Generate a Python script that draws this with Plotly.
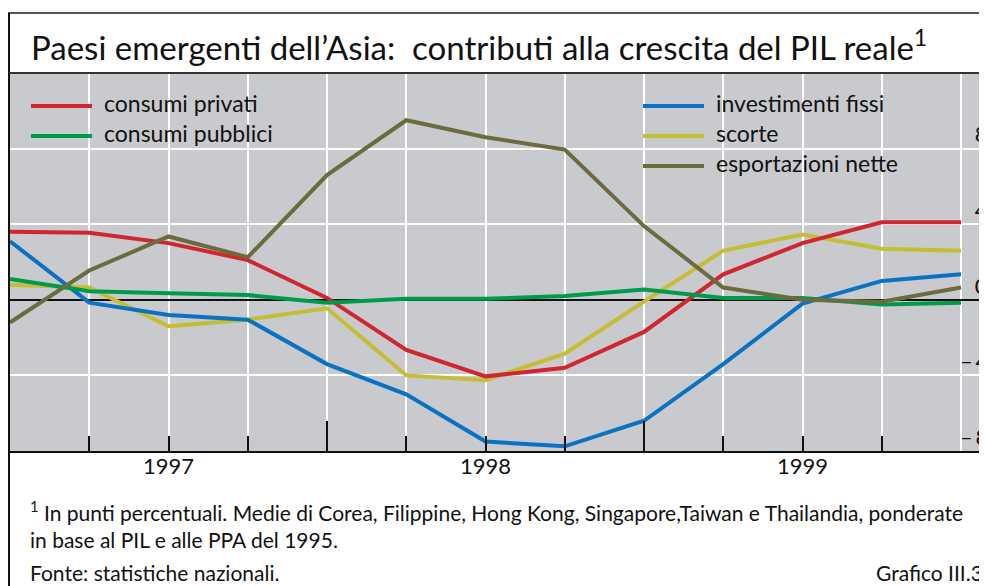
import plotly.graph_objects as go

# ---------------- data ----------------
quarters = list(range(13))  # quarterly points, year boundaries at 0, 4, 8, 12
year_labels = ["1997", "1998", "1999"]
series_names = ["consumi privati", "consumi pubblici", "investimenti fissi",
                "scorte", "esportazioni nette"]
consumi_privati = [3.6, 3.55, 3.0, 2.1, 0.1, -2.65, -4.05, -3.6, -1.7, 1.35, 3.0, 4.1, 4.1]
consumi_pubblici = [1.1, 0.45, 0.35, 0.25, -0.15, 0.05, 0.05, 0.2, 0.55, 0.1, 0.1, -0.25, -0.15]
investimenti_fissi = [3.1, -0.15, -0.8, -1.05, -3.4, -5.0, -7.5, -7.75, -6.4, -3.4, -0.2, 1.0, 1.35]
scorte = [0.8, 0.65, -1.4, -1.05, -0.45, -4.0, -4.25, -2.85, -0.1, 2.6, 3.45, 2.7, 2.6]
esportazioni_nette = [-1.2, 1.55, 3.35, 2.25, 6.6, 9.5, 8.6, 7.95, 3.9, 0.65, 0.0, -0.1, 0.65]
y_ticks = [-8, -4, 0, 4, 8]
y_ticktext = ["–\u20098", "–\u20094", "\u2002\u20060", "\u2002\u20064", "\u2002\u20068"]

colors = {
    "consumi privati": "#d0262f",
    "consumi pubblici": "#009a4c",
    "investimenti fissi": "#0a72c2",
    "scorte": "#c5bd33",
    "esportazioni nette": "#6c6b3e",
}
values = {
    "consumi privati": consumi_privati,
    "consumi pubblici": consumi_pubblici,
    "investimenti fissi": investimenti_fissi,
    "scorte": scorte,
    "esportazioni nette": esportazioni_nette,
}

# page offset of the figure (default body margin of the html page)
OX, OY = 8, 8
W, H = 987 - OX, 586 - OY
L = 10 - OX                    # plot left (figure px)
T = 73 - OY                    # plot top
B = 451 - OY                   # plot bottom
PW = W - L
PH = B - T
step = (961 - 10) / 12         # px per quarter
xmax = PW / step


def X(px):  # page px -> paper x
    return (px - OX - L) / PW


def Y(py):  # page px -> paper y
    return (B - (py - OY)) / PH


FONT = "Lato, 'Open Sans', sans-serif"

fig = go.Figure()
draw_order = ["scorte", "investimenti fissi", "consumi privati",
              "consumi pubblici", "esportazioni nette"]
for name in draw_order:
    fig.add_trace(go.Scatter(x=quarters, y=values[name], mode="lines", name=name,
                             line=dict(color=colors[name], width=4),
                             showlegend=False, hoverinfo="skip"))
# helper (empty) traces so the tick-only axes exist
fig.add_trace(go.Scatter(x=[], y=[], xaxis="x2", showlegend=False, hoverinfo="skip"))
fig.add_trace(go.Scatter(x=[], y=[], xaxis="x3", showlegend=False, hoverinfo="skip"))

quarter_ticks = [q for q in quarters[1:12] if q % 4 != 0]
quarter_text = [year_labels[q // 4] if q % 4 == 2 else " " for q in quarter_ticks]
year_ticks = [q for q in quarters[1:12] if q % 4 == 0]

fig.update_layout(
    width=W, height=H,
    margin=dict(l=L, r=0, t=T, b=H - B, pad=0, autoexpand=False),
    paper_bgcolor="white",
    plot_bgcolor="#c9cacd",
    showlegend=False,
    xaxis=dict(range=[0, xmax], tickvals=quarters[1:], showgrid=True,
               gridcolor="white", gridwidth=1.5, ticks="", showticklabels=False,
               showline=True, linecolor="#111", linewidth=2, zeroline=False,
               fixedrange=True, automargin=False),
    xaxis2=dict(range=[0, xmax], overlaying="x", anchor="y", side="bottom",
                tickvals=quarter_ticks, ticktext=quarter_text, ticks="inside",
                ticklen=15, tickwidth=2, tickcolor="#111", showgrid=False,
                zeroline=False, showline=False, automargin=False,
                tickfont=dict(family=FONT, size=22, color="#111")),
    xaxis3=dict(range=[0, xmax], overlaying="x", anchor="y", side="bottom",
                tickvals=year_ticks, ticks="inside", ticklen=30, tickwidth=2,
                tickcolor="#111", showticklabels=False, showgrid=False,
                zeroline=False, showline=False, automargin=False),
    yaxis=dict(range=[-8, 12], tickvals=y_ticks, ticktext=y_ticktext,
               showgrid=True, gridcolor="white", gridwidth=1.5,
               zeroline=True, zerolinecolor="#111", zerolinewidth=1.5,
               side="right", anchor="free", position=X(961), ticks="",
               ticklabelshift=-14, ticklabelstandoff=-2, showline=False,
               automargin=False,
               tickfont=dict(family=FONT, size=22, color="#111"), fixedrange=True),
)

shapes = []
# outer frame: top and left border, separator under title
shapes.append(dict(type="line", xref="paper", yref="paper", x0=X(8), x1=X(1000),
                   y0=Y(13), y1=Y(13), line=dict(color="#555", width=2)))
shapes.append(dict(type="line", xref="paper", yref="paper", x0=X(9), x1=X(9),
                   y0=Y(13), y1=Y(600), line=dict(color="#111", width=2)))
shapes.append(dict(type="line", xref="paper", yref="paper", x0=X(9), x1=X(1000),
                   y0=Y(73), y1=Y(73), line=dict(color="#333", width=2)))

annotations = []
annotations.append(dict(xref="paper", yref="paper", x=X(29), y=Y(45),
                        xanchor="left", yanchor="middle", showarrow=False,
                        text="Paesi emergenti dell’Asia:\u00a0 contributi alla crescita del PIL reale<sup>1</sup>",
                        font=dict(family=FONT, size=33, color="#111")))

# legend (two columns)
legend_pos = {
    "consumi privati": (31, 106),
    "consumi pubblici": (31, 136),
    "investimenti fissi": (643, 106),
    "scorte": (643, 136),
    "esportazioni nette": (643, 166),
}
for name in series_names:
    lx, ly = legend_pos[name]
    shapes.append(dict(type="line", xref="paper", yref="paper", x0=X(lx), x1=X(lx + 61),
                       y0=Y(ly), y1=Y(ly), line=dict(color=colors[name], width=4)))
    annotations.append(dict(xref="paper", yref="paper", x=X(lx + 71), y=Y(ly - 3),
                            xanchor="left", yanchor="middle", showarrow=False,
                            text=name, font=dict(family=FONT, size=23, color="#111")))

foot = dict(family=FONT, size=21, color="#111")
annotations.append(dict(xref="paper", yref="paper", x=X(28), y=Y(511), xanchor="left",
                        yanchor="middle", showarrow=False, font=foot,
                        text="<sup>1</sup> In punti percentuali. Medie di Corea, Filippine, Hong Kong, Singapore,Taiwan e Thailandia, ponderate"))
annotations.append(dict(xref="paper", yref="paper", x=X(28), y=Y(539), xanchor="left",
                        yanchor="middle", showarrow=False, font=foot,
                        text="in base al PIL e alle PPA del 1995."))
annotations.append(dict(xref="paper", yref="paper", x=X(28), y=Y(572), xanchor="left",
                        yanchor="middle", showarrow=False, font=foot,
                        text="Fonte: statistiche nazionali."))
annotations.append(dict(xref="paper", yref="paper", x=X(985), y=Y(572), xanchor="right",
                        yanchor="middle", showarrow=False, font=foot,
                        text="Grafico III.3"))

fig.update_layout(shapes=shapes, annotations=annotations)
fig.write_html("out.html")
